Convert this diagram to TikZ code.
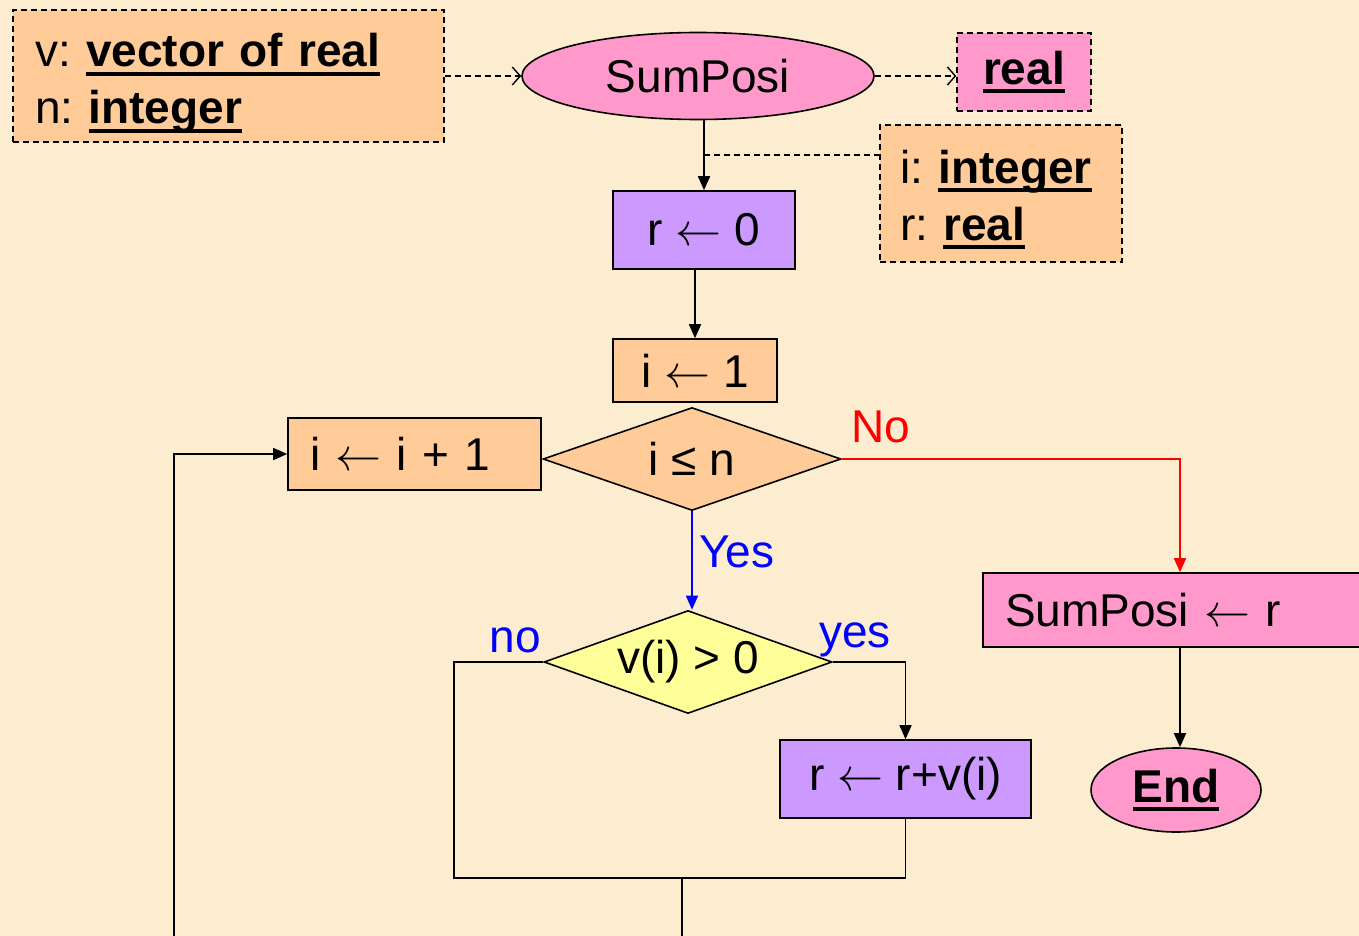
\documentclass[tikz,border=0pt]{standalone}
\usepackage{fix-cm}
\usepackage{fontspec}
\setmainfont{Liberation Sans}
\usetikzlibrary{arrows.meta,shapes.geometric}
\definecolor{bg}{RGB}{252,236,208}
\definecolor{peach}{RGB}{255,204,153}
\definecolor{pinkf}{RGB}{255,153,204}
\definecolor{lilac}{RGB}{204,153,255}
\definecolor{lemon}{RGB}{255,255,153}
\definecolor{myblue}{RGB}{0,0,255}
\definecolor{myred}{RGB}{255,0,0}
\frenchspacing
\newcommand\ulb[1]{\setbox0\hbox{\bfseries #1}\rlap{\rule[-9pt]{\wd0}{4pt}}\box0}
\newcommand\la{$\leftarrow$}
\tikzset{
  every node/.style={font=\fontsize{46}{57}\selectfont\frenchspacing},
  base/.style={draw=black, line width=1.6pt, inner sep=0pt},
  dbox/.style={base, rectangle, dash pattern=on 6pt off 4pt, line width=1.4pt},
  sbox/.style={base, rectangle},
  oval/.style={base, ellipse},
  dia/.style={base, diamond, shape aspect=2.9},
  conn/.style={line width=1.6pt, -{Triangle[length=14pt,width=12pt]}},
  plain/.style={line width=1.6pt},
  dconn/.style={line width=1.4pt, dash pattern=on 6pt off 4pt, -{Straight Barb[length=8pt,width=18pt,line width=1.4pt]}},
  lbl/.style={inner sep=0pt}
}
\begin{document}
\begin{tikzpicture}[x=1pt,y=-1pt]
\useasboundingbox (0,0) rectangle (1359,936);
\fill[bg] (0,0) rectangle (1359,936);
\clip (0,0) rectangle (1359,936);

% nodes
\node[dbox, fill=peach, minimum width=431pt, minimum height=132pt, text width=387pt, inner xsep=22pt, align=left] (vars) at (228.5,76) {\rule{0pt}{48pt}v: \ulb{vector of real}\\n: \ulb{integer}};
\node[oval, fill=pinkf, minimum width=352pt, minimum height=87pt] (fn) at (698,76) {SumPosi};
\node[dbox, fill=pinkf, minimum width=134pt, minimum height=78pt] (ret) at (1024,72) {\ulb{real}};
\node[dbox, fill=peach, minimum width=242pt, minimum height=137pt, text width=202pt, inner xsep=20pt, align=left] (loc) at (1001,193.5) {\rule{0pt}{45pt}i: \ulb{integer}\\r: \ulb{real}};
\node[sbox, fill=lilac, minimum width=182pt, minimum height=78pt] (r0) at (704,230) {r \la{} 0};
\node[sbox, fill=peach, minimum width=164pt, minimum height=63pt] (i1) at (695,370.5) {i \la{} 1};
\node[dia, fill=peach, minimum width=298pt, minimum height=103pt] (cond) at (692,459) {i ≤ n};
\node[sbox, fill=peach, minimum width=253pt, minimum height=72pt, text width=209pt, inner xsep=22pt, align=left] (inc) at (414.5,454) {i \la{} i + 1};
\node[dia, fill=lemon, minimum width=288pt, minimum height=103pt] (vp) at (688,662) {v(i) > 0};
\node[sbox, fill=lilac, minimum width=251pt, minimum height=78pt] (rv) at (905.5,779) {r \la{} r+v(i)};
\node[sbox, fill=pinkf, minimum width=394pt, minimum height=74pt, text width=350pt, inner xsep=22pt, align=left] (out) at (1180,610) {SumPosi \la{} r};
\node[oval, fill=pinkf, minimum width=170pt, minimum height=84pt] (end) at (1176,790) {\ulb{End}};

% labels
\node[lbl, text=myred] (lno) at (881,427) {No};
\node[lbl, text=myblue] (lyes) at (737,552) {Yes};
\node[lbl, text=myblue] (lno2) at (515,640) {no};
\node[lbl, text=myblue] (lyes2) at (855,640) {yes};

% coordinates
\coordinate (j) at (704,155);
\coordinate (jl) at (454,878);
\coordinate (m) at (682,878);
\coordinate (b1) at (682,936);
\coordinate (b2) at (174,936);

% connectors
\draw[dconn] (vars.east) -- (fn.west);
\draw[dconn] (fn.east) -- (fn.east -| ret.west);
\draw[conn] (fn.south -| r0.north) -- (r0.north);
\draw[plain, dash pattern=on 6pt off 4pt, line width=1.4pt] (j) -- (j -| loc.west);
\draw[conn] (r0.south -| i1.north) -- (i1.north);
\draw[conn, draw=myred] (cond.east) -| (out.north);
\draw[conn, draw=myblue] (cond.south) -- (cond.south |- vp.north);
\draw[conn] (vp.east) -| (rv.north);
\draw[plain] (vp.west) -| (jl) -- (jl -| rv.south) -- (rv.south);
\draw[plain] (m) -- (b1);
\draw[conn] (b2) |- (inc.west);
\draw[conn] (out.south) -- (out.south |- end.north);
\end{tikzpicture}
\end{document}
